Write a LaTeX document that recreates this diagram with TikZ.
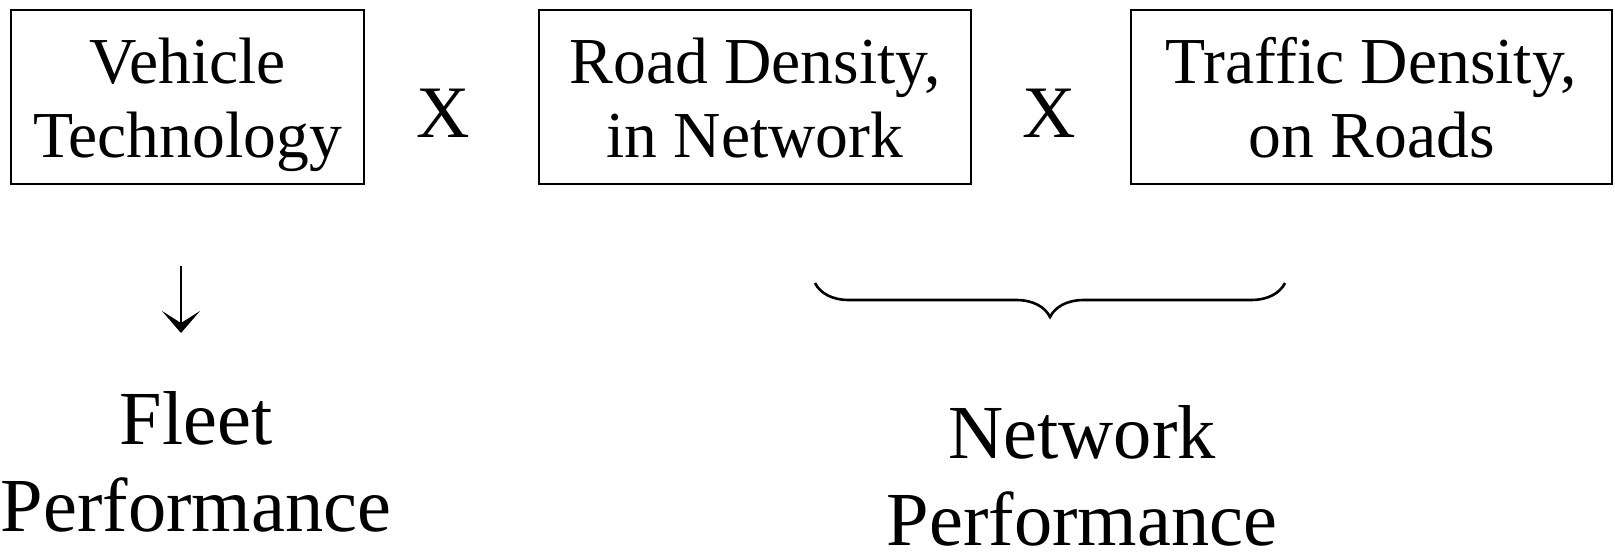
\documentclass[tikz,border=0pt]{standalone}
\usepackage{fontspec}
\setmainfont{Liberation Serif}
\usetikzlibrary{arrows.meta,decorations.pathreplacing}

% struts so that every box sets its two lines at the same baselines
\newcommand{\topstrut}{\rule{0pt}{31pt}}
\newcommand{\botstrut}{\rule[-8pt]{0pt}{8pt}}

\tikzset{
    factor/.style={draw, line width=0.6pt, align=center, inner sep=0pt,
        minimum height=87pt, font=\fontsize{32.8}{37}\selectfont},
    times/.style={inner sep=0pt, font=\fontsize{37}{40}\selectfont},
    result/.style={align=center, inner sep=0pt, font=\fontsize{38.2}{43.5}\selectfont}
}

\begin{document}
\begin{tikzpicture}[x=0.5pt, y=-0.5pt]
    \useasboundingbox (0,0) rectangle (1615,551);

    % Factors
    \node[factor, minimum width=176.5pt] (vehicle) at (187.5,97) {\topstrut Vehicle\\Technology\botstrut};
    \node[factor, minimum width=216pt] (road) at (755,97) {\topstrut Road Density,\\in Network\botstrut};
    \node[factor, minimum width=240.5pt] (traffic) at (1371.5,97) {\topstrut Traffic Density,\\on Roads\botstrut};

    % Multiplication signs
    \node[times] (x1) at (443,113) {X};
    \node[times] (x2) at (1049,113) {X};

    % Results
    \node[result] (fleet) at (196,462) {Fleet\\Performance};
    \node[result] (network) at (1082,476) {Network\\Performance};

    % Connections
    \coordinate (arrtop) at (181,266);
    \coordinate (arrbot) at (181,333);
    \draw[line width=1pt, -{Stealth[length=11pt, width=19pt, inset=6pt]}] (arrtop) -- (arrbot);

    \coordinate (braceleft) at (815,283);
    \coordinate (braceright) at (1285,283);
    \draw[line width=1.3pt, decorate, decoration={brace, mirror, amplitude=17pt}] (braceleft) -- (braceright);
\end{tikzpicture}
\end{document}
